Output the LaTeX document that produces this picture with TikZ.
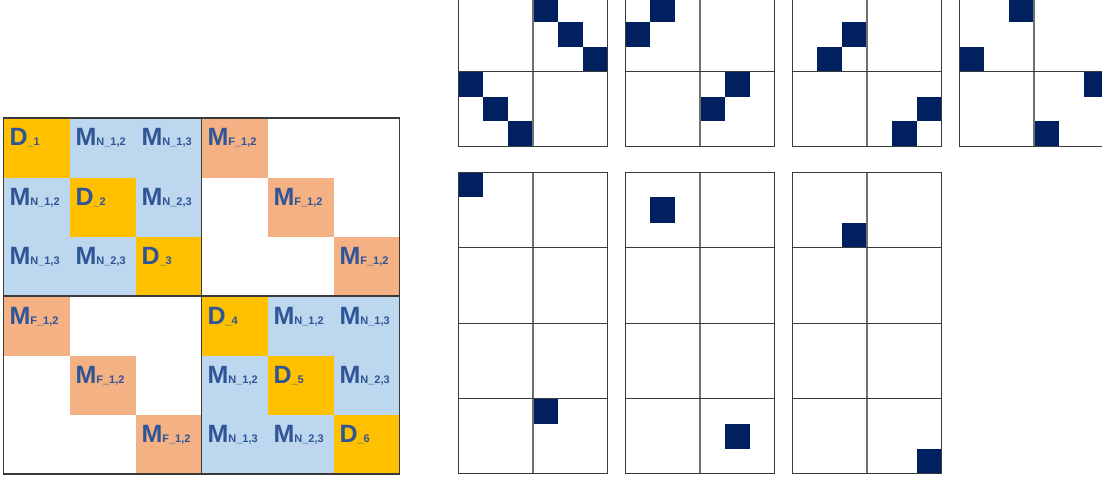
\documentclass[tikz,border=0pt]{standalone}
\usepackage{fontspec}
\setmainfont{Liberation Sans}
\definecolor{cOrange}{HTML}{FFC000}
\definecolor{cBlue}{HTML}{BDD7EE}
\definecolor{cSalmon}{HTML}{F4B183}
\definecolor{cText}{HTML}{2F5597}
\definecolor{cNavy}{HTML}{002060}
\definecolor{cLine}{HTML}{3A3A3A}
\definecolor{cMid}{HTML}{707070}
\newcommand\subf{\fontsize{11}{13}\selectfont\bfseries}
\newcommand\labD[1]{D{\subf\_#1}}
\newcommand\labN[2]{M{\subf N\_#1,#2}}
\newcommand\labF[2]{M{\subf F\_#1,#2}}
\tikzset{
  cellbox/.style={draw=none, fill=#1, minimum width=66pt, minimum height=59.333pt, inner sep=0pt, anchor=north west},
  celltxt/.style={anchor=base west, inner sep=0pt, text=cText, font=\fontsize{25}{30}\selectfont\bfseries},
  gridline/.style={draw=cLine, line width=1pt},
  midline/.style={draw=cMid, line width=1.4pt},
  dot/.style={fill=cNavy},
}
\begin{document}
\begin{tikzpicture}[x=1pt,y=-1pt]
\useasboundingbox (0,0) rectangle (1102,478);
\clip (0,0) rectangle (1102,478);
\fill[white] (0,0) rectangle (1102,478);
% ---------- left block matrix ----------
\foreach \r/\c/\col/\txt in {
  1/1/cOrange/\labD1, 1/2/cBlue/\labN12, 1/3/cBlue/\labN13, 1/4/cSalmon/\labF12,
  2/1/cBlue/\labN12, 2/2/cOrange/\labD2, 2/3/cBlue/\labN23, 2/5/cSalmon/\labF12,
  3/1/cBlue/\labN13, 3/2/cBlue/\labN23, 3/3/cOrange/\labD3, 3/6/cSalmon/\labF12,
  4/1/cSalmon/\labF12, 4/4/cOrange/\labD4, 4/5/cBlue/\labN12, 4/6/cBlue/\labN13,
  5/2/cSalmon/\labF12, 5/4/cBlue/\labN12, 5/5/cOrange/\labD5, 5/6/cBlue/\labN23,
  6/3/cSalmon/\labF12, 6/4/cBlue/\labN13, 6/5/cBlue/\labN23, 6/6/cOrange/\labD6}{
  \node[cellbox=\col] (c\r\c) at ({3.3+(\c-1)*66},{118+(\r-1)*59.333}) {};
  \node[celltxt] (t\r\c) at ([xshift=6pt,yshift=-28pt]c\r\c.north west) {\txt};
}
\draw[gridline, line width=1.2pt] (3.3,118) rectangle (399.3,474);
\draw[gridline, line width=1.2pt] (201.3,118) -- (201.3,474);
\draw[gridline, line width=1.2pt] (3.3,296) -- (399.3,296);
% ---------- top row: 2x2 grids with 3x3 sub-blocks ----------
\def\sw{24.9}
% grid 1 (x0=458.3, y0=-3)
\foreach \i in {0,1,2}{
  \fill[dot] ({533+\i*\sw},{-3+\i*\sw}) rectangle ++(\sw,\sw);
  \fill[dot] ({458.3+\i*\sw},{71.7+\i*\sw}) rectangle ++(\sw,\sw);
}
% grid 2 (x0=625.3)
\fill[dot] ({625.3+1*\sw},{-3}) rectangle ++(\sw,\sw);
\fill[dot] ({625.3},{-3+\sw}) rectangle ++(\sw,\sw);
\fill[dot] ({700+1*\sw},{71.7}) rectangle ++(\sw,\sw);
\fill[dot] ({700},{71.7+\sw}) rectangle ++(\sw,\sw);
% grid 3 (x0=792.3)
\fill[dot] ({792.3+2*\sw},{-3+\sw}) rectangle ++(\sw,\sw);
\fill[dot] ({792.3+1*\sw},{-3+2*\sw}) rectangle ++(\sw,\sw);
\fill[dot] ({867+2*\sw},{71.7+\sw}) rectangle ++(\sw,\sw);
\fill[dot] ({867+1*\sw},{71.7+2*\sw}) rectangle ++(\sw,\sw);
% grid 4 (x0=959.3)
\fill[dot] ({959.3+2*\sw},{-3}) rectangle ++(\sw,\sw);
\fill[dot] ({959.3},{-3+2*\sw}) rectangle ++(\sw,\sw);
\fill[dot] ({1034+2*\sw},{71.7}) rectangle ++(\sw,\sw);
\fill[dot] ({1034},{71.7+2*\sw}) rectangle ++(\sw,\sw);
\foreach \gx in {458.3,625.3,792.3,959.3}{
  \draw[midline] ({\gx+74.7},-3) -- ({\gx+74.7},146.3);
  \draw[gridline] (\gx,71.7) -- ({\gx+149.4},71.7);
  \draw[gridline] (\gx,-3) rectangle ({\gx+149.4},146.3);
}
% ---------- bottom row: 2x4 grids ----------
\def\sh{25.13}
% grid 5
\fill[dot] (458.3,172.3) rectangle ++(\sw,\sh);
\fill[dot] (533,398.5) rectangle ++(\sw,\sh);
% grid 6
\fill[dot] ({625.3+\sw},{172.3+\sh}) rectangle ++(\sw,\sh);
\fill[dot] ({700+\sw},{398.5+\sh}) rectangle ++(\sw,\sh);
% grid 7
\fill[dot] ({792.3+2*\sw},{172.3+2*\sh}) rectangle ++(\sw,\sh);
\fill[dot] ({867+2*\sw},{398.5+2*\sh}) rectangle ++(\sw,\sh);
\foreach \gx in {458.3,625.3,792.3}{
  \draw[midline] ({\gx+74.7},172.3) -- ({\gx+74.7},473.9);
  \foreach \yy in {247.7,323.1,398.5}{
    \draw[gridline] (\gx,\yy) -- ({\gx+149.4},\yy);
  }
  \draw[gridline] (\gx,172.3) rectangle ({\gx+149.4},473.9);
}
\end{tikzpicture}
\end{document}
